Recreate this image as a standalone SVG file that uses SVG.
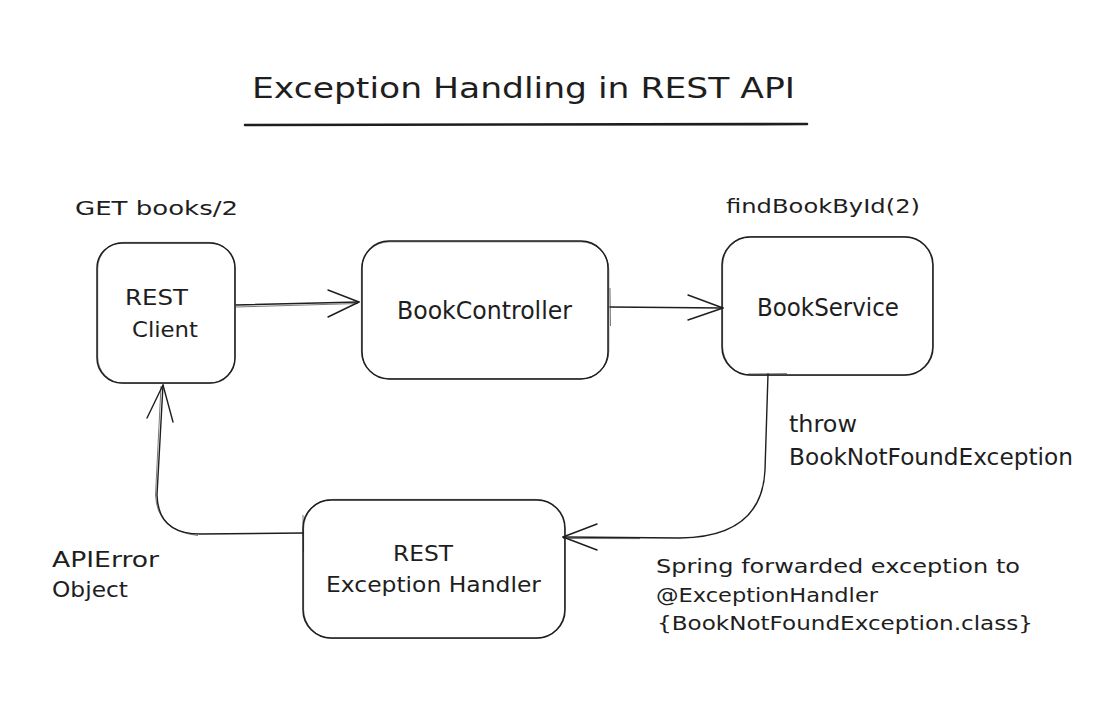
<svg xmlns="http://www.w3.org/2000/svg" width="1118" height="706" viewBox="0 0 1118 706">
<style>
.box{fill:none;stroke:#1e1e1e;stroke-width:1.5}
.sk{fill:none;stroke:#1e1e1e;stroke-width:0.8;opacity:0.75}
.ln{fill:none;stroke:#1e1e1e;stroke-width:1.4;stroke-linecap:round;stroke-linejoin:round}
.t{font-family:"DejaVu Sans","Liberation Sans",sans-serif;fill:#1e1e1e}
</style>
<rect width="1118" height="706" fill="#ffffff"/>
<g id="title">
<text class="t" x="252" y="98" font-size="28" textLength="543" lengthAdjust="spacingAndGlyphs">Exception Handling in REST API</text>
<path d="M245 125 L807 124" fill="none" stroke="#1e1e1e" stroke-width="2.6" stroke-linecap="round"/>
</g>
<g id="rest-client">
<rect class="box" x="97" y="243" width="138" height="140" rx="25"/>
<rect class="sk" x="97.7" y="242.4" width="137.2" height="140.8" rx="26"/>
<text class="t" x="125" y="305" font-size="21" textLength="63" lengthAdjust="spacingAndGlyphs">REST</text>
<text class="t" x="132" y="337" font-size="21" textLength="66" lengthAdjust="spacingAndGlyphs">Client</text>
</g>
<g id="book-controller">
<rect class="box" x="362" y="241" width="246" height="138" rx="27"/>
<rect class="sk" x="361.4" y="241.8" width="247.4" height="137" rx="28"/>
<path class="sk" d="M610 288 L610.5 326"/>
<text class="t" x="397" y="319" font-size="25" textLength="175" lengthAdjust="spacingAndGlyphs">BookController</text>
</g>
<g id="book-service">
<rect class="box" x="722" y="237" width="211" height="138" rx="28"/>
<rect class="sk" x="722.6" y="236.5" width="210" height="138.8" rx="29"/>
<path class="sk" d="M748 374 L787 373.6"/>
<text class="t" x="757" y="316" font-size="25" textLength="142" lengthAdjust="spacingAndGlyphs">BookService</text>
</g>
<g id="exception-handler">
<rect class="box" x="303" y="500" width="262" height="138" rx="28"/>
<rect class="sk" x="303.6" y="499.4" width="261" height="139" rx="29"/>
<path class="sk" d="M303 515 L303.5 552"/>
<text class="t" x="393" y="561" font-size="21" textLength="60" lengthAdjust="spacingAndGlyphs">REST</text>
<text class="t" x="326" y="592" font-size="21" textLength="215" lengthAdjust="spacingAndGlyphs">Exception Handler</text>
</g>
<g id="connectors">
<path class="ln" d="M236 305 L359 302"/>
<path class="sk" d="M236 307 L358 303.5"/>
<path class="ln" d="M328 290 L359 302 L328 317"/>
<path class="ln" d="M610 307 L723 308"/>
<path class="ln" d="M688 295 L723 308 L688 320"/>
<path class="ln" d="M768 374 L765 470 Q762 537 680 538 L563 537"/>
<path class="sk" d="M563 538.5 L640 538.6"/>
<path class="ln" d="M597 524 L563 537 L597 550"/>
<path class="ln" d="M303 533 L200 534 Q158 534 157 495 L163 385"/>
<path class="sk" d="M161 386 L155.5 495 Q157 531 198 535.5"/>
<path class="ln" d="M147 418 L163 385 L173 422"/>
</g>
<g id="labels">
<text class="t" x="75" y="215" font-size="19" textLength="163" lengthAdjust="spacingAndGlyphs">GET books/2</text>
<text class="t" x="726" y="213" font-size="19" textLength="194" lengthAdjust="spacingAndGlyphs">findBookById(2)</text>
<text class="t" x="789" y="432" font-size="23" textLength="68" lengthAdjust="spacingAndGlyphs">throw</text>
<text class="t" x="789" y="465" font-size="23" textLength="284" lengthAdjust="spacingAndGlyphs">BookNotFoundException</text>
<text class="t" x="52" y="567" font-size="21" textLength="107" lengthAdjust="spacingAndGlyphs">APIError</text>
<text class="t" x="52" y="597" font-size="21" textLength="76" lengthAdjust="spacingAndGlyphs">Object</text>
<text class="t" x="656" y="573" font-size="19" textLength="364" lengthAdjust="spacingAndGlyphs">Spring forwarded exception to</text>
<text class="t" x="656" y="602" font-size="19" textLength="222" lengthAdjust="spacingAndGlyphs">@ExceptionHandler</text>
<text class="t" x="657" y="630" font-size="19" textLength="376" lengthAdjust="spacingAndGlyphs">{BookNotFoundException.class}</text>
</g>
</svg>
